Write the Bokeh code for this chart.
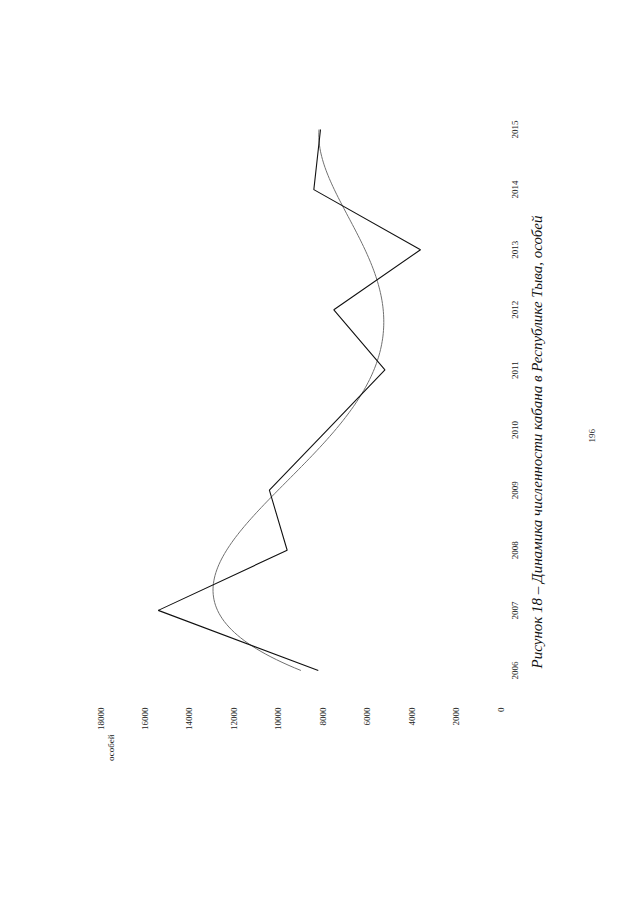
import numpy as np
from math import pi
from bokeh.plotting import figure
from bokeh.models import Range1d, LinearAxis, FixedTicker
from bokeh.embed import file_html
from bokeh.resources import INLINE

years = [2006, 2007, 2008, 2009, 2010, 2011, 2012, 2013, 2014, 2015]
counts = [8200, 15400, 9600, 10400, 7800, 5200, 7500, 3600, 8400, 8100]
value_ticks = [0, 2000, 4000, 6000, 8000, 10000, 12000, 14000, 16000, 18000]
axis_title = "особей"
caption = "Рисунок 18 – Динамика численности кабана в Республике Тыва, особей"
page_number = "196"
trend_degree = 4

W, H = 624, 889
FRAME_L, FRAME_R, FRAME_T, FRAME_B = 100, 500, 110, 690
Y0, Y1 = 2005.667, 2015.316
LABEL_SHIFT = 0.15  # half a year-label length, in years (labels start at the tick)

p = figure(width=W, height=H, output_backend="svg", toolbar_location=None,
           x_range=Range1d(18000, 0), y_range=Range1d(Y0, Y1),
           min_border_left=FRAME_L, min_border_right=W - FRAME_R,
           min_border_top=FRAME_T, min_border_bottom=H - FRAME_B,
           x_axis_location=None, y_axis_location=None)
p.outline_line_color = None
p.xgrid.visible = False
p.ygrid.visible = False
p.background_fill_color = "white"
p.border_fill_color = "white"

# helper ranges: page pixels for text blocks, shifted years for centred year labels
p.extra_x_ranges = {"pgx": Range1d(FRAME_L, FRAME_R)}
p.extra_y_ranges = {"pgy": Range1d(FRAME_B, FRAME_T),
                    "yl": Range1d(Y0 + LABEL_SHIFT, Y1 + LABEL_SHIFT)}


def style(ax, font_size, standoff, italic=False, color="#222222"):
    ax.axis_line_color = None
    ax.major_tick_line_color = None
    ax.minor_tick_line_color = None
    ax.major_tick_out = 0
    ax.major_tick_in = 0
    ax.major_label_orientation = pi / 2
    ax.major_label_standoff = standoff
    ax.major_label_text_font = "Liberation Serif"
    ax.major_label_text_font_size = font_size
    ax.major_label_text_color = color
    if italic:
        ax.major_label_text_font_style = "italic"


# value axis (below)
xa = LinearAxis(ticker=FixedTicker(ticks=value_ticks))
style(xa, "9px", 17)
p.add_layout(xa, "below")

# axis title under the 18000 label
xt = LinearAxis(x_range_name="pgx", ticker=FixedTicker(ticks=[110]),
                major_label_overrides={110: axis_title})
style(xt, "9px", 1)
p.add_layout(xt, "below")

# year axis (right)
ya = LinearAxis(y_range_name="yl", ticker=FixedTicker(ticks=years))
style(ya, "9px", 15)
p.add_layout(ya, "right")

# figure caption
yc = LinearAxis(y_range_name="pgy", ticker=FixedTicker(ticks=[668]),
                major_label_overrides={668: caption})
style(yc, "15px", 12, italic=True, color="#111111")
p.add_layout(yc, "right")

# page number
yp = LinearAxis(y_range_name="pgy", ticker=FixedTicker(ticks=[442]),
                major_label_overrides={442: page_number})
style(yp, "9px", 36)
p.add_layout(yp, "right")

# polynomial trend line (as in the source spreadsheet)
t = np.array(years, dtype=float) - years[0]
coef = np.polyfit(t, np.array(counts, dtype=float), trend_degree)
tt = np.linspace(t[0], t[-1], 200)
p.line(np.polyval(coef, tt), tt + years[0], line_color="#707070", line_width=1)

# data line
p.line(counts, years, line_color="#111111", line_width=1.1)

open("out.html", "w").write(file_html(p, INLINE))
